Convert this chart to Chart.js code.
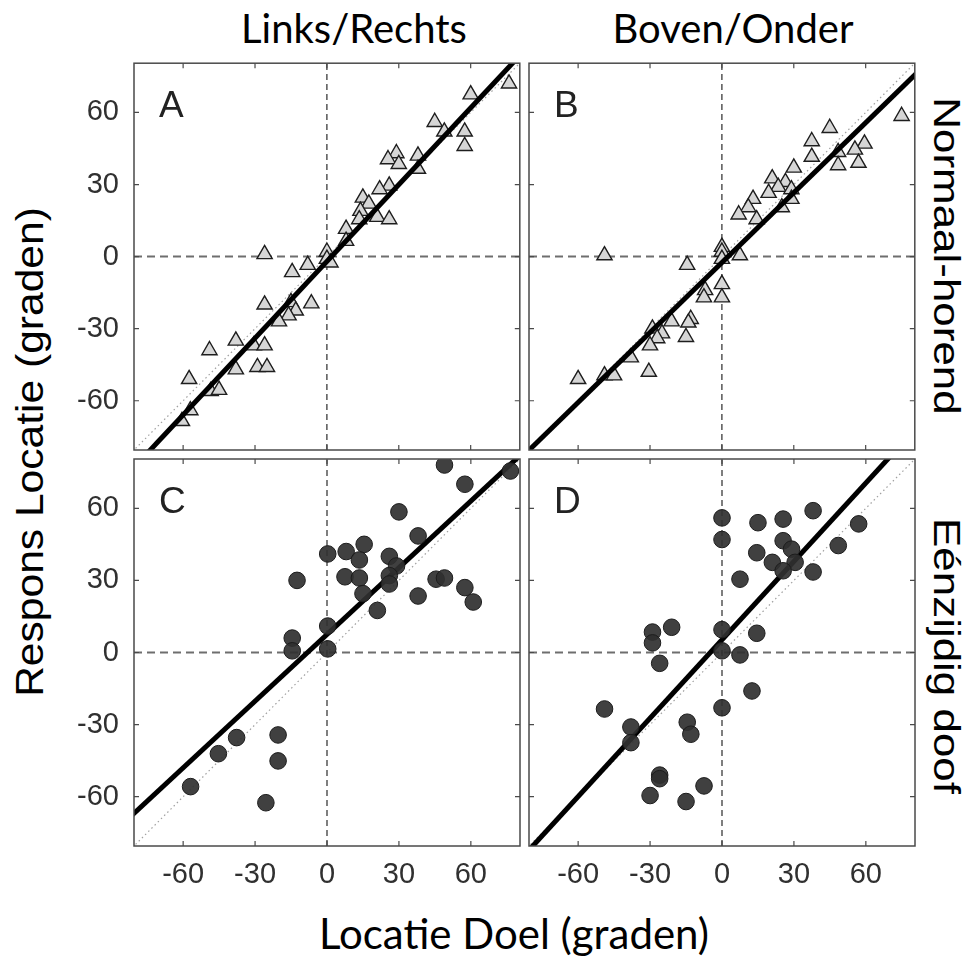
<!DOCTYPE html>
<html>
<head>
<meta charset="utf-8">
<script src="https://cdn.jsdelivr.net/npm/chart.js@4.4.1/dist/chart.umd.min.js"></script>
<style>
  body { margin: 0; background: #fff; }
  #wrap { position: relative; width: 975px; height: 957px; overflow: hidden; }
  canvas { position: absolute; }
  .lbl { position: absolute; white-space: nowrap; line-height: 1; color: #000; }
  .title { font-family: Lato, 'Open Sans', sans-serif; font-size: 40px; transform: translate(-50%, -50%); }
  .side { font-family: 'Liberation Sans', Arial, sans-serif; font-size: 36px; }
</style>
</head>
<body>
<div id="wrap">
  <div class="lbl title" style="left:354px; top:28px;">Links/Rechts</div>
  <div class="lbl title" style="left:733px; top:28px;">Boven/Onder</div>
  <div class="lbl title" style="left:514px; top:933px; font-size:42px;">Locatie Doel (graden)</div>
  <div class="lbl side" style="left:30px; top:452px; font-size:38px; transform: translate(-50%, -50%) rotate(-90deg) scaleX(1.12);">Respons Locatie (graden)</div>
  <div class="lbl side" style="left:946px; top:256px; transform: translate(-50%, -50%) rotate(90deg) scaleX(1.22);">Normaal-horend</div>
  <div class="lbl side" style="left:946px; top:656px; transform: translate(-50%, -50%) rotate(90deg) scaleX(1.22);">Eénzijdig doof</div>

  <canvas id="panelA"></canvas>
  <canvas id="panelB"></canvas>
  <canvas id="panelC"></canvas>
  <canvas id="panelD"></canvas>
</div>

<script>
// Tick waarden (beide assen)
const tickValues = [-60, -30, 0, 30, 60];

// A: Links/Rechts, normaal-horend
const xA = [76, 60, 45, 49, 57.5, 57.5, 29, 25.5, 38, 30, 38, 26, 22, 15, 17.5, 14, 13.5, 21, 26, 8, 8, 0, 0, 1.5,
            -26, -8, -14.5, -26, -15, -6.5, -13, -16, -20, -49, -38, -30.5, -26, -38, -29, -25, -57.5, -48.5, -45, -57, -60.5];
const yA = [72, 67.5, 56, 52, 52, 46, 43, 40.5, 42, 38.5, 36.5, 29.5, 28, 24.5, 22, 19, 15.5, 16.5, 15.5, 11.5, 6.5, 2, -1, -2.5,
            1, -3.5, -6.5, -20, -19, -19.5, -22.5, -24.5, -27, -39, -35, -37, -37, -47, -46, -46, -51, -56, -55.5, -64, -68.5];

// B: Boven/Onder, normaal-horend
const xB = [75, 45, 37.5, 59.5, 55.5, 48.5, 37.5, 57, 48.5, 30, 21, 26.5, 23.5, 29, 19.5, 29, 13, 25, 11, 7, 14.5,
            0, 0, 0, 7.5, -49, -14.5, 0, -7, 0, -7.5, -13, -21, -14, -29, -25, -27, -30, -15, -38, -30.5, -60, -49, -45];
const yB = [58.5, 53.5, 48, 47, 44.5, 43.5, 41.5, 39, 38, 37, 32.5, 31, 29, 28, 26.5, 24, 24, 20.5, 20.5, 17.5, 15.5,
            4, 2, -1, 0.5, 0.5, -3.5, -11.5, -14, -17, -17, -26, -27, -27.5, -30, -32, -34, -37, -33.5, -42, -48, -51, -49.5, -49.5];

// C: Links/Rechts, eenzijdig doof
const xC = [49, 76.5, 57.5, 30, 38, 15.5, 8, 0.3, 26, 13.5, 29, 7.5, 13.5, 26, -12.5, 45.5, 49, 26, 57.5, 15, 38, 61,
            21, 0.3, -14.5, -14.5, 0.3, -20.4, -37.7, -45.3, -20.4, -56.9, -25.5];
const yC = [78, 75.5, 70, 58.5, 48.5, 45, 42, 41, 40, 38.5, 36, 31.5, 31, 32, 30, 30.5, 31, 28.5, 27, 24.5, 23.5, 21,
            17.5, 11, 6, 0.7, 1.5, -34.3, -35.4, -42.1, -45.1, -55.8, -62.5];

// D: Boven/Onder, eenzijdig doof
const xD = [0, 15, 25.5, 38, 57, 0, 25.5, 29, 14.5, 48.5, 21, 30.5, 25.5, 38, 7.5, 0, -21, -29, -29, 14.5, 0, 7.5,
            -26, 12.5, -49, 0, -38, -14.5, -13, -38, -26, -26, -7.5, -30, -15];
const yD = [56, 54, 55.5, 59, 53.5, 47, 46.5, 43, 41.5, 44.5, 37.5, 37.5, 34, 33.5, 30.5, 9.5, 10.5, 8.5, 4, 8, 0.7, -1,
            -4.5, -16, -23.5, -23, -31, -29, -34, -37.5, -51, -52.5, -55.5, -59.5, -62];

// regressielijnen [helling, snijpunt]
const fitA = [1.065, -2];
const fitB = [0.97, -2.5];
const fitC = [0.925, 7.5];
const fitD = [1.087, 5.3];

const axisMin = -80.5, axisMax = 80.5;

function toPoints(xs, ys) {
  return xs.map((x, i) => ({ x: x, y: ys[i] }));
}
function fitLine(f) {
  return [axisMin - 2, axisMax + 2].map(x => ({ x: x, y: f[0] * x + f[1] }));
}

// kader, binnenwaartse tickjes en paneelletter
const framePlugin = {
  id: 'frame',
  afterDraw(chart) {
    const { ctx, chartArea: a, scales } = chart;
    const sx = scales.x, sy = scales.y;
    ctx.save();
    ctx.strokeStyle = '#4a4a4a';
    ctx.lineWidth = 1.5;
    ctx.strokeRect(a.left, a.top, a.width, a.height);
    ctx.lineWidth = 1.2;
    ctx.beginPath();
    tickValues.forEach(v => {
      const px = sx.getPixelForValue(v);
      const py = sy.getPixelForValue(v);
      ctx.moveTo(px, a.top); ctx.lineTo(px, a.top + 5);
      ctx.moveTo(px, a.bottom); ctx.lineTo(px, a.bottom - 5);
      ctx.moveTo(a.left, py); ctx.lineTo(a.left + 5, py);
      ctx.moveTo(a.right, py); ctx.lineTo(a.right - 5, py);
    });
    ctx.stroke();
    ctx.fillStyle = '#222';
    ctx.font = '37px "Liberation Sans", Arial, sans-serif';
    ctx.textBaseline = 'alphabetic';
    ctx.fillText(chart.options.plugins.frame.letter, a.left + 25, a.top + 54);
    ctx.restore();
  }
};

function makePanel(id, left, top, letter, xs, ys, fit, marker, showX, showY) {
  const W = 386, H = 387;
  const cv = document.getElementById(id);
  cv.width = W + 80;
  cv.height = H + 60;
  cv.style.left = (left - 70) + 'px';
  cv.style.top = (top - 10) + 'px';

  const tri = marker === 'triangle';
  const pointSet = {
    label: 'punten',
    data: toPoints(xs, ys),
    pointStyle: tri ? 'triangle' : 'circle',
    pointRadius: tri ? 8.8 : 8.3,
    backgroundColor: tri ? '#d6d6d6' : 'rgba(48,48,48,0.92)',
    borderColor: tri ? '#1e1e1e' : '#1c1c1c',
    borderWidth: tri ? 1.4 : 1,
    showLine: false,
    order: tri ? 2 : 1
  };

  const tickFont = { family: '"Liberation Sans", Arial, sans-serif', size: 29 };

  new Chart(cv.getContext('2d'), {
    type: 'scatter',
    data: {
      datasets: [
        {
          label: 'eenheidslijn',
          data: [{ x: axisMin - 2, y: axisMin - 2 }, { x: axisMax + 2, y: axisMax + 2 }],
          showLine: true, pointRadius: 0,
          borderColor: '#a0a0a0', borderWidth: 1.2, borderDash: [1.5, 3],
          order: 5
        },
        {
          label: 'nul-x',
          data: [{ x: 0, y: axisMin }, { x: 0, y: axisMax }],
          showLine: true, pointRadius: 0,
          borderColor: '#2a2a2a', borderWidth: 1.2, borderDash: [6, 4],
          order: 4
        },
        {
          label: 'nul-y',
          data: [{ x: axisMin, y: 0 }, { x: axisMax, y: 0 }],
          showLine: true, pointRadius: 0,
          borderColor: '#6e6e6e', borderWidth: 2, borderDash: [8, 5],
          order: 4
        },
        pointSet,
        {
          label: 'fit',
          data: fitLine(fit),
          showLine: true, pointRadius: 0,
          borderColor: '#000', borderWidth: 5,
          clip: 0,
          order: tri ? 1 : 2
        }
      ]
    },
    options: {
      responsive: false,
      animation: false,
      events: [],
      layout: { padding: { left: 0, top: 10, right: 10, bottom: 0 } },
      plugins: {
        legend: { display: false },
        tooltip: { enabled: false },
        frame: { letter: letter }
      },
      scales: {
        x: {
          type: 'linear', min: axisMin, max: axisMax,
          grid: { display: false, drawTicks: false },
          border: { display: false },
          afterBuildTicks: s => { s.ticks = tickValues.map(v => ({ value: v })); },
          afterFit: s => { s.height = 50; s.paddingLeft = 0; s.paddingRight = 0; },
          ticks: { display: showX, autoSkip: false, font: tickFont, color: '#303030', padding: 12, maxRotation: 0 }
        },
        y: {
          type: 'linear', min: axisMin, max: axisMax,
          grid: { display: false, drawTicks: false },
          border: { display: false },
          afterBuildTicks: s => { s.ticks = tickValues.map(v => ({ value: v })); },
          afterFit: s => { s.width = 70; s.paddingTop = 0; s.paddingBottom = 0; },
          ticks: { display: showY, autoSkip: false, font: tickFont, color: '#303030', padding: 15 }
        }
      }
    },
    plugins: [framePlugin]
  });
}

makePanel('panelA', 134, 63, 'A', xA, yA, fitA, 'triangle', false, true);
makePanel('panelB', 529, 63, 'B', xB, yB, fitB, 'triangle', false, false);
makePanel('panelC', 134, 459, 'C', xC, yC, fitC, 'circle', true, true);
makePanel('panelD', 529, 459, 'D', xD, yD, fitD, 'circle', true, false);
</script>
</body>
</html>
